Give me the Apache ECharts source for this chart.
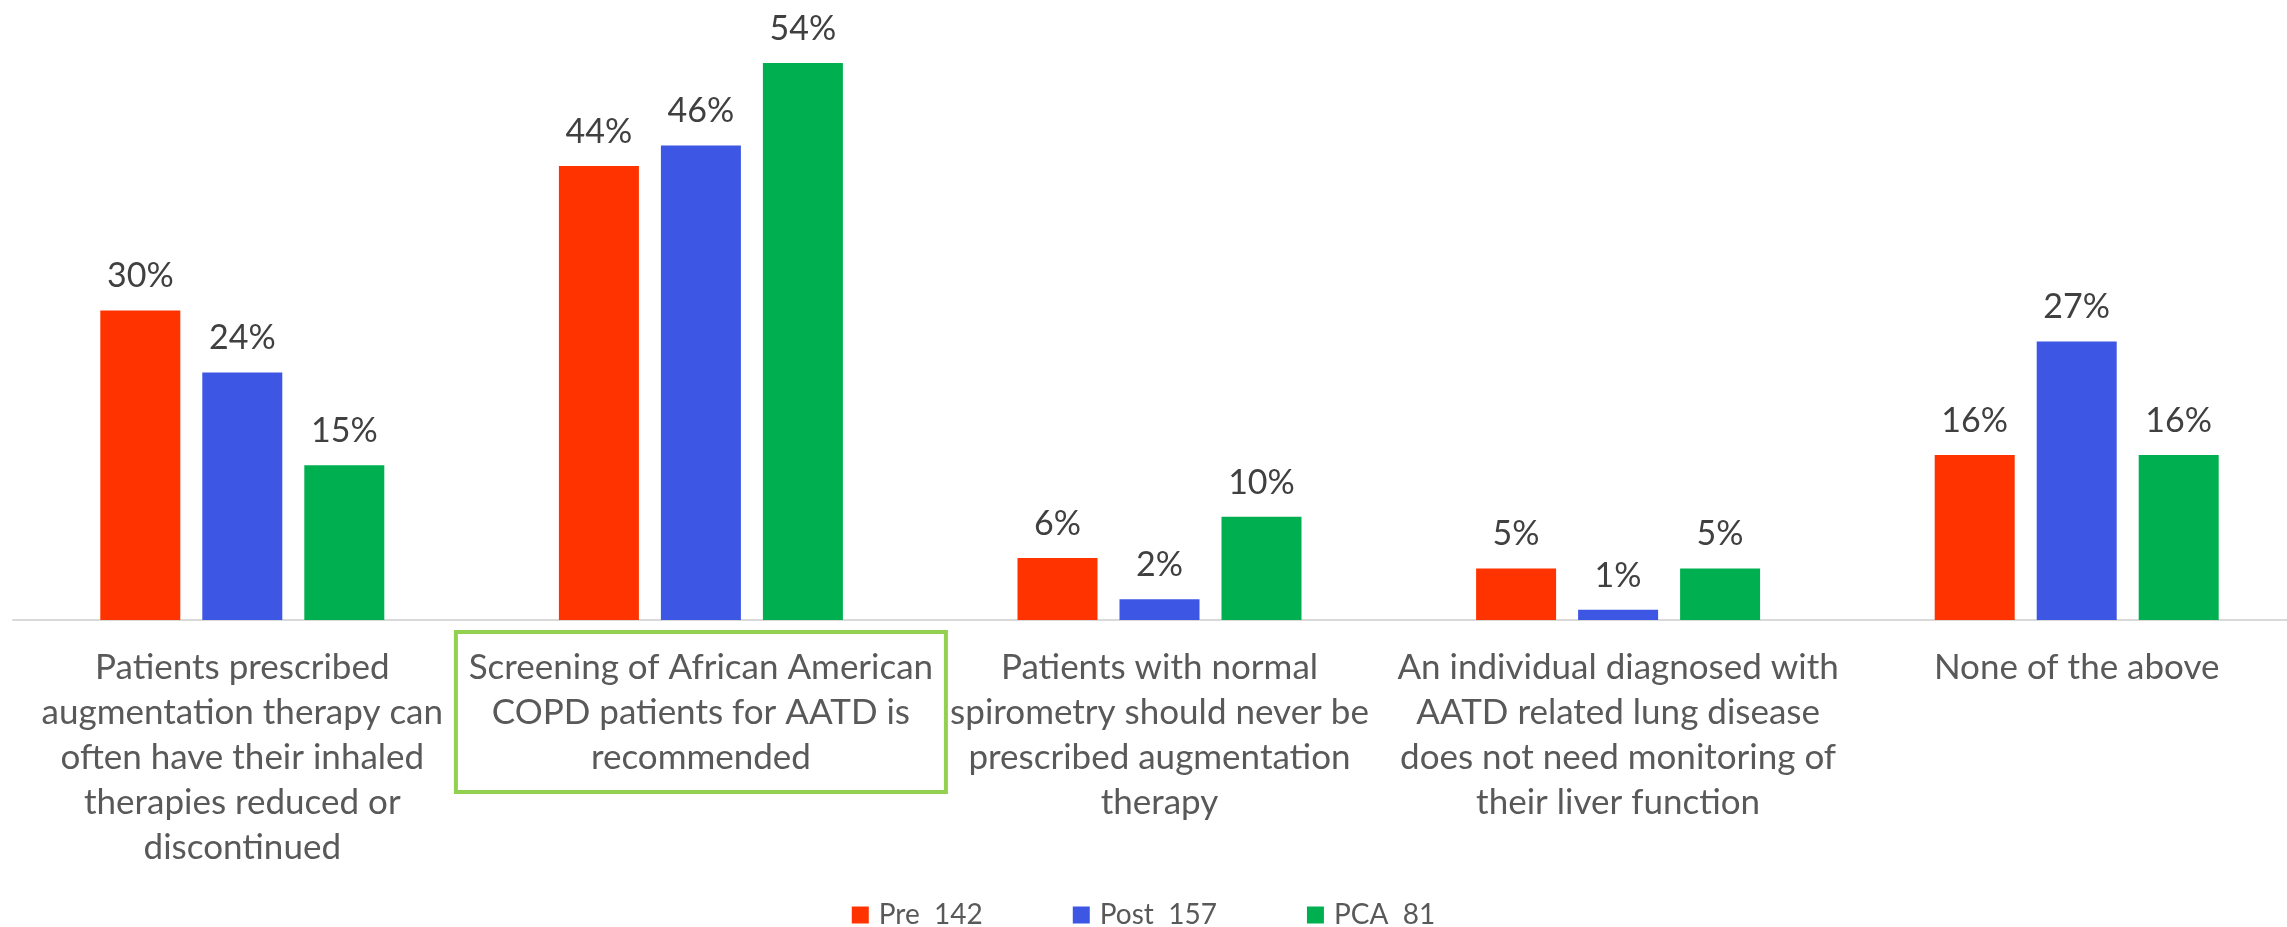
<!DOCTYPE html>
<html>
<head>
<meta charset="utf-8">
<script src="https://cdn.jsdelivr.net/npm/echarts@6/dist/echarts.min.js"></script>
<style>
html,body{margin:0;padding:0;background:#fff;}
#chart{width:2287px;height:927px;}
</style>
</head>
<body>
<div id="chart"></div>
<script>
const categories = [
  'Patients prescribed\naugmentation therapy can\noften have their inhaled\ntherapies reduced or\ndiscontinued',
  'Screening of African American\nCOPD patients for AATD is\nrecommended',
  'Patients with normal\nspirometry should never be\nprescribed augmentation\ntherapy',
  'An individual diagnosed with\nAATD related lung disease\ndoes not need monitoring of\ntheir liver function',
  'None of the above'
];
const seriesNames = ['Pre  142', 'Post  157', 'PCA  81'];
const preValues = [30, 44, 6, 5, 16];
const postValues = [24, 46, 2, 1, 27];
const pcaValues = [15, 54, 10, 5, 16];
const highlightedCategory = 1;

const colors = ['#FF3300', '#3D56E4', '#00B050'];
const FONT = 'Lato';

const chart = echarts.init(document.getElementById('chart'), null, {renderer: 'canvas'});

const xData = categories.map((c, i) => i === highlightedCategory
  ? {value: c, textStyle: {borderColor: '#92D050', borderWidth: 4, width: 466, align: 'center'}}
  : c);

function mkSeries(name, data, color) {
  return {
    name: name,
    type: 'bar',
    data: data,
    barWidth: 80,
    barGap: '27.5%',
    itemStyle: {color: color},
    label: {
      show: true,
      position: 'top',
      distance: 14,
      formatter: '{c}%',
      color: '#404040',
      fontFamily: FONT,
      fontSize: 34,
      lineHeight: 40
    }
  };
}

chart.setOption({
  animation: false,
  backgroundColor: '#ffffff',
  grid: {left: 13, width: 2293, top: 1, bottom: 307, containLabel: false, outerBoundsMode: 'none'},
  legend: {
    data: seriesNames,
    left: 'center',
    top: 895,
    itemWidth: 17,
    itemHeight: 17,
    itemGap: 90,
    icon: 'rect',
    textStyle: {color: '#595959', fontFamily: FONT, fontSize: 28, lineHeight: 30, padding: [0, 0, 0, 5]}
  },
  xAxis: {
    type: 'category',
    data: xData,
    axisLine: {show: true, lineStyle: {color: '#D9D9D9', width: 2}},
    axisTick: {show: false},
    axisLabel: {
      interval: 0,
      margin: 12,
      color: '#595959',
      fontFamily: FONT,
      fontSize: 35,
      lineHeight: 45,
      align: 'center',
      padding: [13, 12, 12, 12]
    }
  },
  yAxis: {
    type: 'value',
    min: 0,
    max: 60,
    show: false,
    splitLine: {show: false}
  },
  series: [
    mkSeries(seriesNames[0], preValues, colors[0]),
    mkSeries(seriesNames[1], postValues, colors[1]),
    mkSeries(seriesNames[2], pcaValues, colors[2])
  ]
});
</script>
</body>
</html>
